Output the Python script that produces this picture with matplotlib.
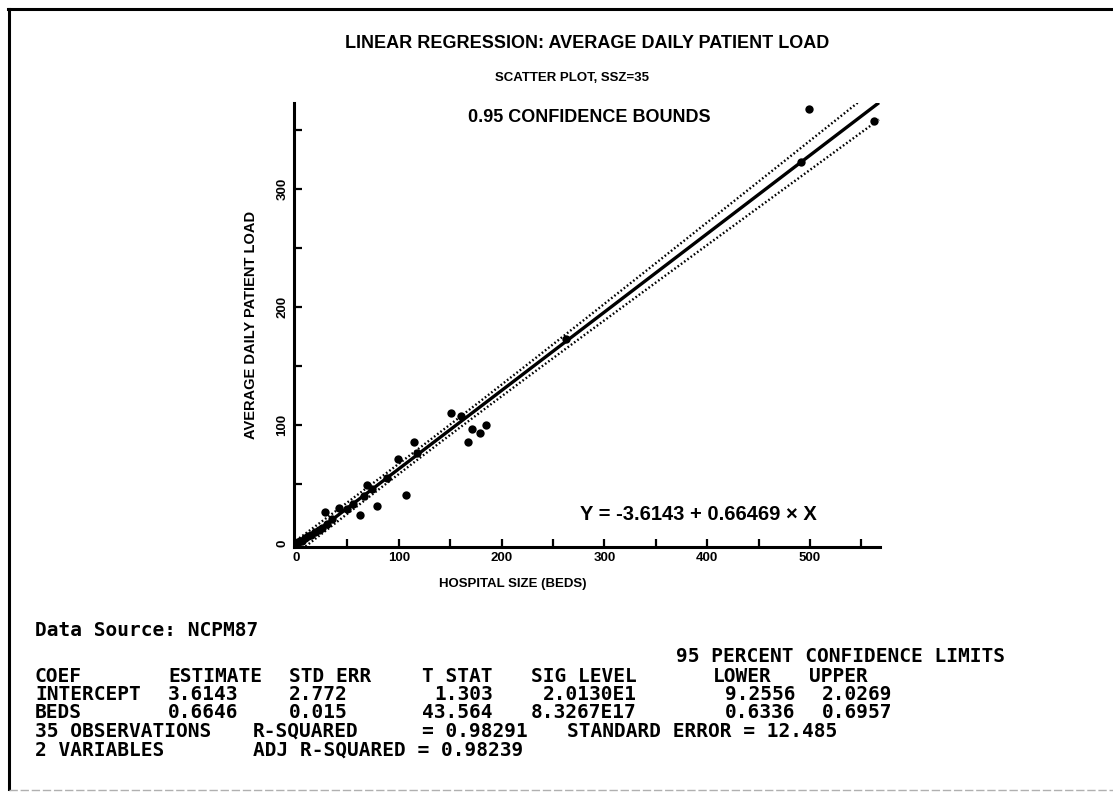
import matplotlib
matplotlib.use('Agg')
import matplotlib.pyplot as plt
from matplotlib.lines import Line2D
import numpy as np

W, H = 1113, 794

# Observations: hospital size (beds) vs average daily patient load
beds = [2, 4, 6, 9, 12, 15, 18, 22, 25, 28, 30, 35, 42, 50, 55, 62, 66, 69,
        74, 79, 88, 99, 107, 115, 118, 151, 160, 167, 171, 179, 185, 263,
        491, 499, 562]
load = [1, 2, 2, 4, 6, 7, 9, 11, 13, 26.5, 16, 20, 30, 29, 33, 24, 40, 49,
        46, 31, 55, 71, 41, 86, 76, 110, 108, 86, 97, 93, 100, 173,
        323, 368, 358]

# Fitted model and summary statistics
INTERCEPT = -3.6143
SLOPE = 0.66469
SE_INTERCEPT = 2.772
SE_SLOPE = 0.015
STD_ERROR = 12.485
N_OBS = 35
T_CRIT = 2.0345      # t(0.975, 33 df)

FIT_RANGE = (0, 567)

# Table rows: (text, column) on a fixed character grid
header_row = [('COEF', 0), ('ESTIMATE', 11), ('STD ERR', 21), ('T STAT', 32),
              ('SIG LEVEL', 41), ('LOWER', 56), ('UPPER', 64)]
intercept_row = [('INTERCEPT', 0), ('3.6143', 11), ('2.772', 21), ('1.303', 33),
                 ('2.0130E1', 42), ('9.2556', 57), ('2.0269', 65)]
beds_row = [('BEDS', 0), ('0.6646', 11), ('0.015', 21), ('43.564', 32),
            ('8.3267E17', 41), ('0.6336', 57), ('0.6957', 65)]
obs_row = [('35 OBSERVATIONS', 0), ('R-SQUARED', 18), ('= 0.98291', 32),
           ('STANDARD ERROR = 12.485', 44)]
var_row = [('2 VARIABLES', 0), ('ADJ R-SQUARED = 0.98239', 18)]


def fx(x):
    return x / W


def fy(y):
    return 1 - y / H


fig = plt.figure(figsize=(W / 100, H / 100), dpi=100)
fig.patch.set_facecolor('white')

# page frame
fig.add_artist(Line2D([fx(8), 1.0], [fy(9), fy(9)], color='black', lw=2.2))
fig.add_artist(Line2D([fx(9), fx(9)], [fy(9), fy(789)], color='black', lw=2.2))
fig.add_artist(Line2D([fx(9), 1.0], [fy(790), fy(790)], color='#b0b0b0', lw=1.0,
                      linestyle=(0, (6, 2))))

SANS = ['Liberation Sans', 'DejaVu Sans']
MONO = ['DejaVu Sans Mono']

ax = fig.add_axes([fx(294), fy(546.5), fx(880) - fx(294), fy(103) - fy(546.5)])
ax.set_xlim(-2, 568)
ax.set_ylim(-3, 373)

# regression line and 0.95 confidence bounds for the mean
x = np.linspace(FIT_RANGE[0], FIT_RANGE[1], 300)
sxx = (STD_ERROR / SE_SLOPE) ** 2
xbar = np.sqrt(((SE_INTERCEPT / STD_ERROR) ** 2 - 1 / N_OBS) * sxx)
yhat = INTERCEPT + SLOPE * x
half = T_CRIT * STD_ERROR * np.sqrt(1 / N_OBS + (x - xbar) ** 2 / sxx)

ax.plot(x, yhat, color='black', lw=2.4, solid_capstyle='butt')
ax.plot(x, yhat + half, color='black', lw=1.7, linestyle=(0, (0.7, 1.0)))
ax.plot(x, yhat - half, color='black', lw=1.7, linestyle=(0, (0.7, 1.0)))
ax.scatter(beds, load, s=36, color='black', zorder=3, linewidths=0)

for side in ['top', 'right']:
    ax.spines[side].set_visible(False)
for side in ['left', 'bottom']:
    ax.spines[side].set_linewidth(2.2)

ax.set_xticks(np.arange(0, 551, 50))
ax.set_xticklabels([str(v) if v % 100 == 0 else '' for v in range(0, 551, 50)])
ax.set_yticks(np.arange(0, 351, 50))
ax.set_yticklabels([str(v) if v % 100 == 0 else '' for v in range(0, 351, 50)],
                   rotation=90, va='center')
ax.tick_params(direction='in', length=6, width=1.6, labelsize=9.5, pad=4)
for lab in ax.get_xticklabels() + ax.get_yticklabels():
    lab.set_fontweight('bold')
    lab.set_family(SANS)

ax.set_xlabel('HOSPITAL SIZE (BEDS)', fontsize=9.5, fontweight='bold',
              family=SANS)
ax.xaxis.set_label_coords((513 - 294) / 586, -(578 - 546.5) / 443.5)
ax.set_ylabel('AVERAGE DAILY PATIENT LOAD', fontsize=10.5, fontweight='bold',
              family=SANS)
ax.yaxis.set_label_coords(-(294 - 258) / 586, 0.5)

ax.text(fx(589), fy(118), '0.95 CONFIDENCE BOUNDS', transform=fig.transFigure,
        ha='center', va='center', fontsize=13, fontweight='bold', family=SANS)
ax.text(fx(698), fy(515),
        'Y = %.4f + %.5f \u00d7 X' % (INTERCEPT, SLOPE),
        transform=fig.transFigure, ha='center', va='center',
        fontsize=14.5, fontweight='bold', family=SANS)

# titles
fig.text(fx(587), fy(43), 'LINEAR REGRESSION: AVERAGE DAILY PATIENT LOAD',
         ha='center', va='center', fontsize=13, fontweight='bold', family=SANS)
fig.text(fx(572), fy(78), 'SCATTER PLOT, SSZ=35', ha='center', va='center',
         fontsize=9.5, fontweight='bold', family=SANS)

# summary table
COL_W = 12.1
X0 = 35


def table_row(items, y):
    for txt, col in items:
        fig.text(fx(X0 + col * COL_W), fy(y), txt, ha='left', va='center',
                 fontsize=14, fontweight='bold', family=MONO)


table_row([('Data Source: NCPM87', 0)], 630)
table_row([('95 PERCENT CONFIDENCE LIMITS', 53)], 657)
table_row(header_row, 676)
table_row(intercept_row, 694.5)
table_row(beds_row, 713)
table_row(obs_row, 731.5)
table_row(var_row, 750)

fig.savefig('out.png', dpi=100, facecolor='white')
